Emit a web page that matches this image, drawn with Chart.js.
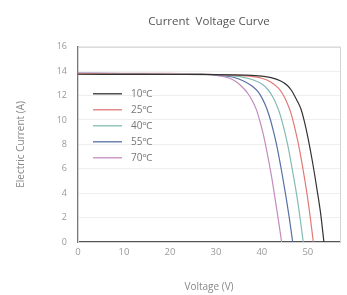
<!DOCTYPE html>
<html>
<head>
<meta charset="utf-8">
<script src="https://cdn.jsdelivr.net/npm/chart.js@4.4.1/dist/chart.umd.min.js"></script>
<style>
html, body { margin: 0; padding: 0; background: #fff; }
#wrap { position: relative; width: 347px; height: 295px; }
</style>
</head>
<body>
<div id="wrap"><canvas id="chart" width="347" height="295"></canvas></div>
<script>
/* ---- data ---- */

const seriesLabels = ['10℃', '25℃', '40℃', '55℃', '70℃'];

const volts10 = [0, 10, 20, 30, 36, 40, 42, 44, 45.5, 46.5, 47.5, 48.5, 49.3, 50, 51, 52, 52.8, 53.5];
const amps10  = [13.75, 13.74, 13.73, 13.72, 13.68, 13.6, 13.48, 13.22, 12.85, 12.4, 11.7, 10.9, 9.8, 8.6, 6.6, 4.3, 2.3, 0];

const volts25 = [0, 10, 20, 30, 34, 38, 40, 42, 43.5, 44.5, 45.5, 46.3, 47, 47.8, 48.8, 49.8, 50.5, 51.2];
const amps25  = [13.78, 13.77, 13.76, 13.73, 13.68, 13.56, 13.42, 13.1, 12.65, 12.15, 11.4, 10.6, 9.6, 8.3, 6.3, 4.0, 2.1, 0];

const volts40 = [0, 10, 20, 28, 32, 36, 38, 40, 41.3, 42.3, 43.3, 44.1, 44.8, 45.6, 46.6, 47.6, 48.3, 49];
const amps40  = [13.8, 13.79, 13.78, 13.75, 13.68, 13.5, 13.3, 12.95, 12.5, 11.95, 11.15, 10.3, 9.3, 8.0, 6.0, 3.8, 2.0, 0];

const volts55 = [0, 10, 20, 26, 30, 34, 36, 38, 39.2, 40.1, 41, 41.8, 42.5, 43.3, 44.3, 45.3, 46, 46.7];
const amps55  = [13.82, 13.81, 13.8, 13.77, 13.7, 13.48, 13.2, 12.75, 12.3, 11.75, 11.0, 10.1, 9.1, 7.8, 5.8, 3.6, 1.9, 0];

const volts70 = [0, 10, 20, 25, 28, 31, 33, 34.5, 36, 37, 37.9, 38.8, 39.5, 40.2, 41, 42, 42.9, 43.6, 44.3];
const amps70  = [13.84, 13.83, 13.82, 13.78, 13.73, 13.6, 13.42, 13.12, 12.6, 12.15, 11.6, 10.85, 10.0, 9.0, 7.6, 5.6, 3.5, 1.8, 0];

const xTicks = [0, 10, 20, 30, 40, 50];
const yTicks = [0, 2, 4, 6, 8, 10, 12, 14, 16];

/* ---- styles ---- */

const seriesColors = ['#333333', '#e07a76', '#82bcb4', '#5870a4', '#c48cbc'];
const FONT = "'Open Sans', 'Noto Sans', sans-serif";

const points = (xs, ys) => xs.map((x, i) => ({x: x, y: ys[i]}));

const seriesData = [
	points(volts10, amps10),
	points(volts25, amps25),
	points(volts40, amps40),
	points(volts55, amps55),
	points(volts70, amps70),
];

/* centre the title over the plot, not over the whole canvas */
const titleOverPlot = {
	id: 'titleOverPlot',
	afterLayout(chart) {
		const t = chart.titleBlock;
		const a = chart.chartArea;
		if (t) {
			t.left = a.left;
			t.right = a.right;
			t.width = a.right - a.left;
		}
	},
};

/* light frame round the plot */
const framePlugin = {
	id: 'frame',
	beforeDatasetsDraw(chart) {
		const {ctx, chartArea: a} = chart;
		ctx.save();
		ctx.strokeStyle = '#d4d4d4';
		ctx.lineWidth = 1;
		ctx.strokeRect(a.left + 0.5, a.top + 0.5, a.right - a.left, a.bottom - a.top);
		ctx.restore();
	},
};

/* legend drawn inside the plot, upper left */
const innerLegend = {
	id: 'innerLegend',
	afterDatasetsDraw(chart) {
		const {ctx, chartArea: a} = chart;
		ctx.save();
		ctx.font = '10px ' + FONT;
		ctx.textBaseline = 'middle';
		chart.data.datasets.forEach((ds, i) => {
			const y = a.top + 47 + i * 16;
			ctx.strokeStyle = ds.borderColor;
			ctx.lineWidth = 1.3;
			ctx.beginPath();
			ctx.moveTo(a.left + 15, y);
			ctx.lineTo(a.left + 44, y);
			ctx.stroke();
			ctx.fillStyle = '#777';
			ctx.fillText(ds.label, a.left + 53, y);
		});
		ctx.restore();
	},
};

new Chart(document.getElementById('chart'), {
	type: 'scatter',
	data: {
		datasets: seriesData.map((d, i) => ({
			label: seriesLabels[i],
			data: d,
			showLine: true,
			borderColor: seriesColors[i],
			borderWidth: 1.2,
			pointRadius: 0,
			cubicInterpolationMode: 'monotone',
		})),
	},
	options: {
		responsive: false,
		animation: false,
		layout: {padding: {top: 0, right: 7, left: 0, bottom: 0}},
		plugins: {
			legend: {display: false},
			tooltip: {enabled: false},
			title: {
				display: true,
				text: 'Current  Voltage Curve',
				color: '#555',
				font: {family: FONT, size: 11.5, weight: 'normal'},
				padding: {top: 15, bottom: 18},
			},
		},
		scales: {
			x: {
				type: 'linear',
				min: 0,
				max: 57,
				afterBuildTicks: (s) => { s.ticks = xTicks.map(v => ({value: v})); },
				afterFit: (s) => { s.height = 53; },
				ticks: {color: '#999', font: {family: FONT, size: 9.5}, padding: 5},
				grid: {display: false, drawTicks: false},
				border: {color: '#555', width: 2},
				title: {
					display: true,
					text: 'Voltage (V)',
					color: '#888',
					font: {family: FONT, size: 10},
					padding: {top: 0, bottom: 2},
				},
			},
			y: {
				type: 'linear',
				min: 0,
				max: 16,
				afterBuildTicks: (s) => { s.ticks = yTicks.map(v => ({value: v})); },
				afterFit: (s) => { s.width = 78; },
				ticks: {color: '#999', font: {family: FONT, size: 9}, padding: 11},
				grid: {color: '#eeeeee', drawTicks: false},
				border: {color: '#777', width: 1.5},
				title: {
					display: true,
					text: 'Electric Current (A)',
					color: '#888',
					font: {family: FONT, size: 10},
					padding: {top: 15, bottom: 0},
				},
			},
		},
	},
	plugins: [titleOverPlot, framePlugin, innerLegend],
});
</script>
</body>
</html>
